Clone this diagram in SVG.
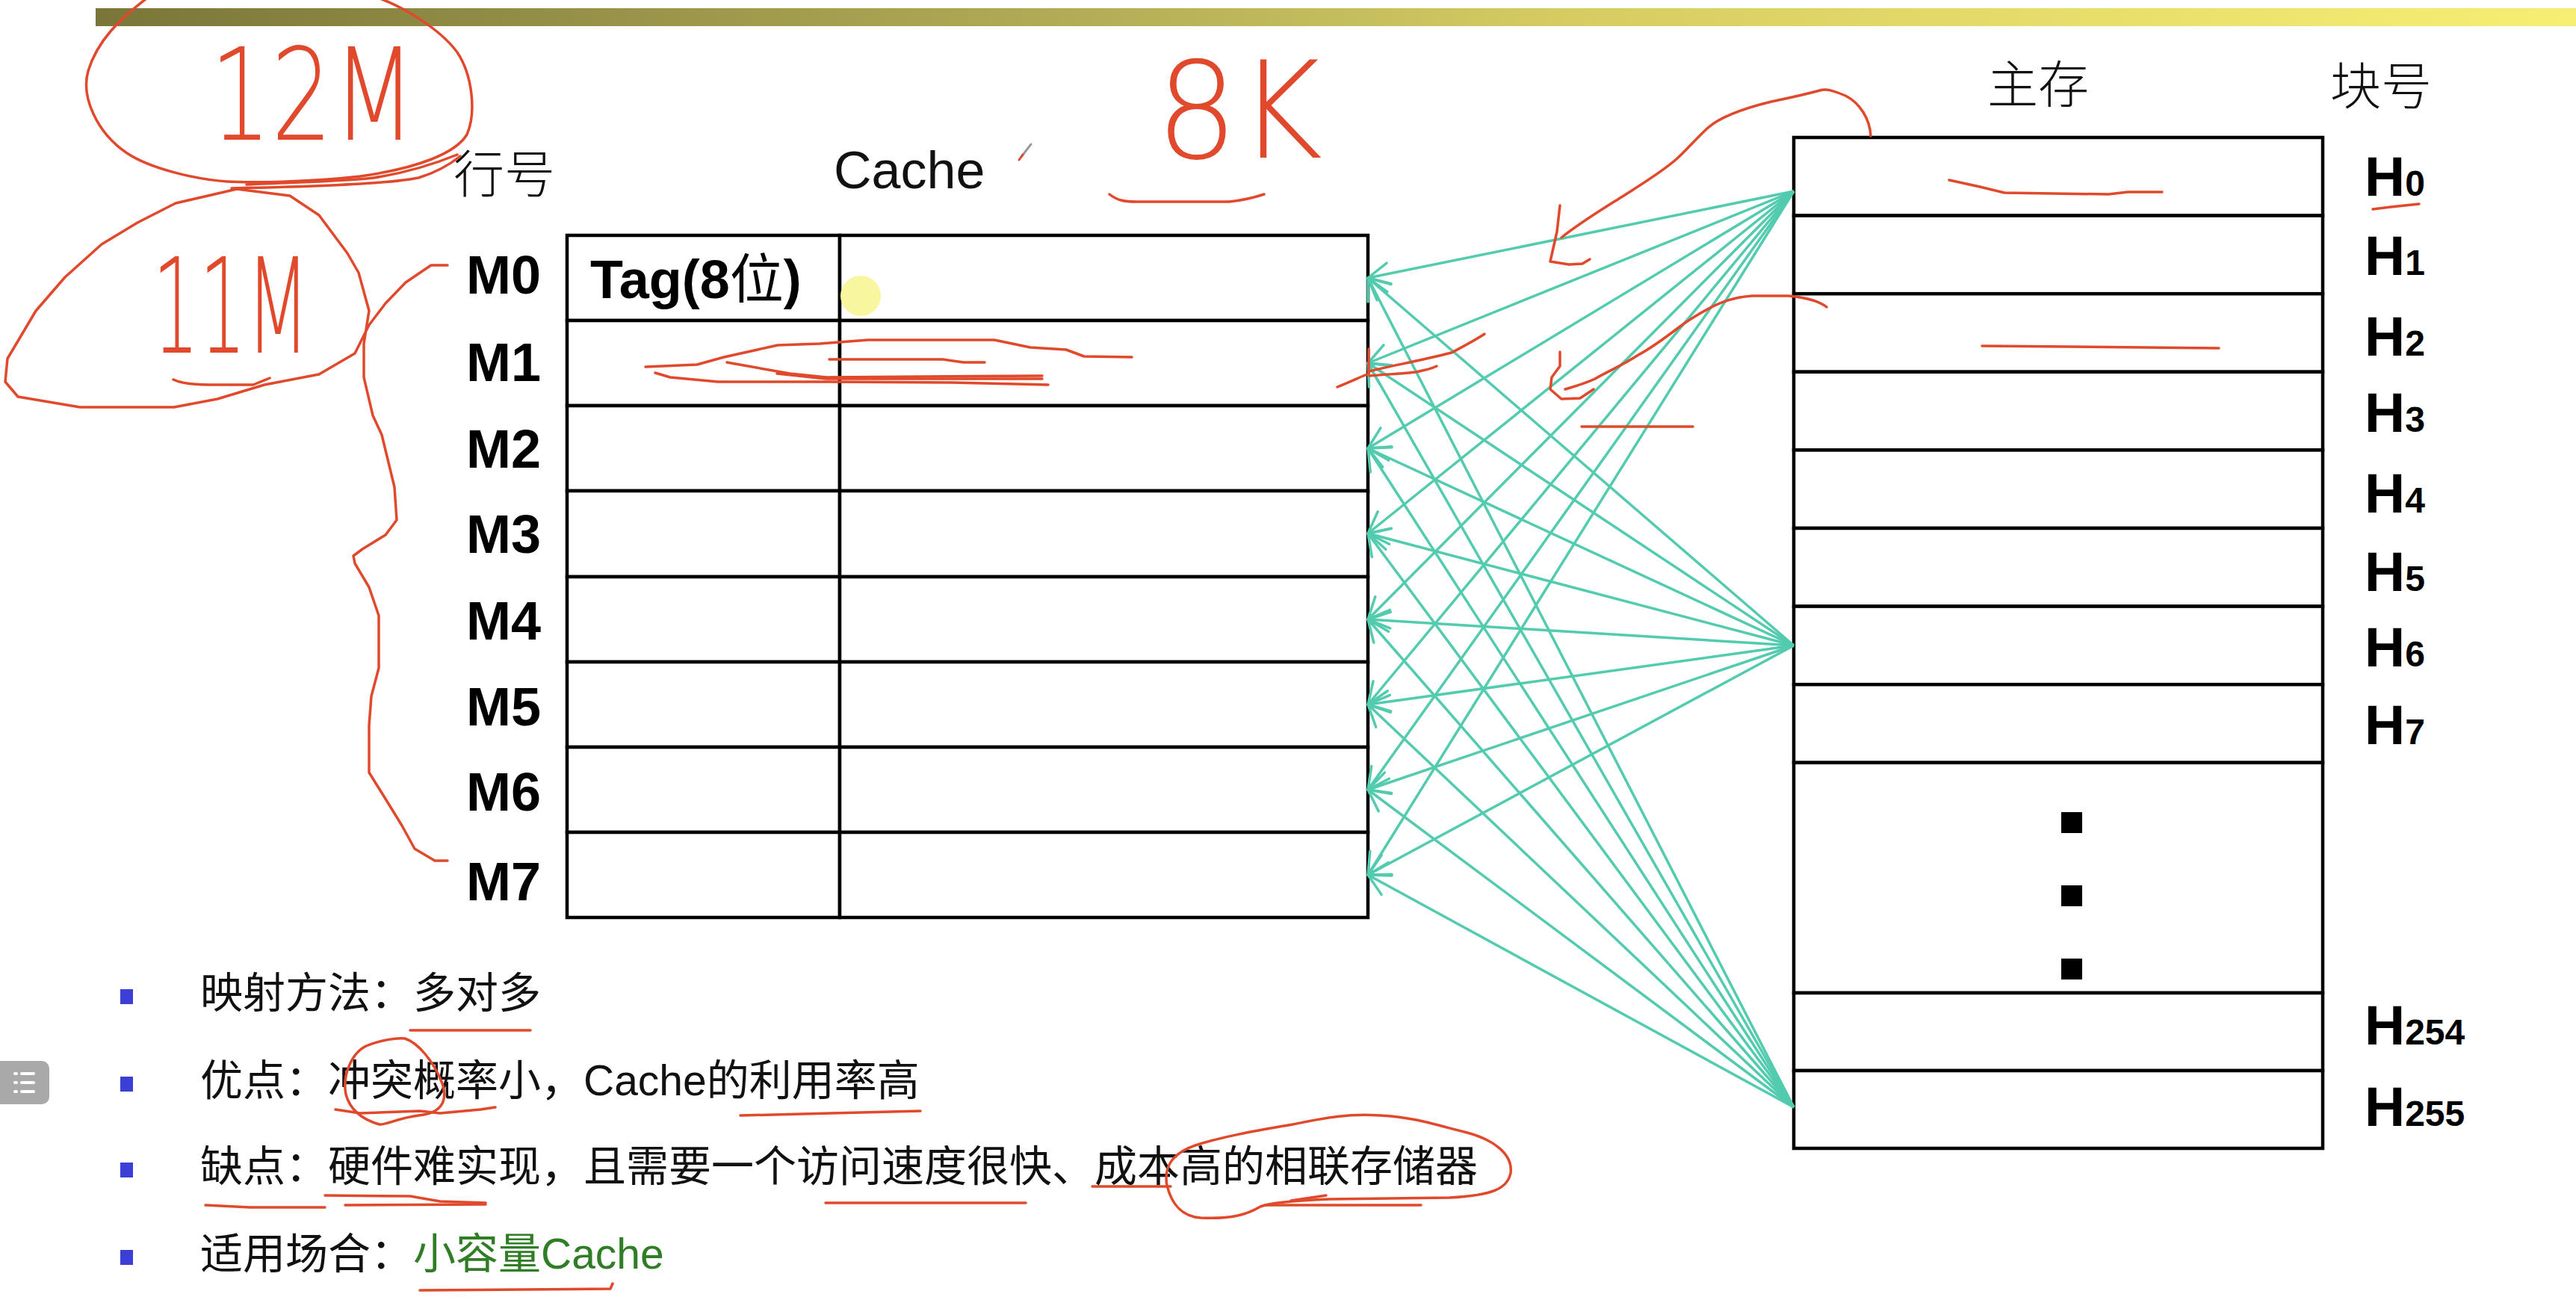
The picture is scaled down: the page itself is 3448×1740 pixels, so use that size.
<svg xmlns="http://www.w3.org/2000/svg" width="3448" height="1740" viewBox="0 0 3448 1740">
  <defs>
    <linearGradient id="barGrad" x1="0" y1="0" x2="1" y2="0">
      <stop offset="0" stop-color="#7a7638"/>
      <stop offset="0.4" stop-color="#b3ad57"/>
      <stop offset="0.6" stop-color="#d6cd62"/>
      <stop offset="1" stop-color="#f7ef73"/>
    </linearGradient>
    <marker id="arrow" markerUnits="userSpaceOnUse" markerWidth="44" markerHeight="44" viewBox="-36 -22 44 44" refX="0" refY="0" orient="auto">
      <path d="M-28.5,-14.5 L0,0 L-28.5,14.5" fill="none" stroke="#52cbae" stroke-width="3.5" stroke-linecap="round" stroke-linejoin="round"/>
    </marker>
    <style>
      .cell { fill: #ffffff; stroke: #000000; stroke-width: 4.5; }
      .lbl { font-family: "Liberation Sans", Arial, "Noto Sans CJK SC", sans-serif; font-weight: bold; fill: #000; }
      .mlbl { font-size: 72px; }
      .hl { font-size: 75px; }
      .sub { font-size: 48px; }
      .head { font-family: "Noto Sans CJK SC", sans-serif; font-size: 68px; font-weight: 300; fill: #111; }
      .note { font-family: "Liberation Sans", Arial, "Noto Sans CJK SC", sans-serif; font-size: 57px; fill: #111; }
      .green { fill: #2f7d24; }
      .bullet { fill: #3b3fd6; }
      .link { stroke: #52cbae; stroke-width: 3.5; fill: none; marker-end: url(#arrow); }
      .ink { fill: none; stroke: #e0492b; stroke-width: 3.5; stroke-linecap: round; stroke-linejoin: round; }
      .hand { font-family: "DejaVu Sans", "Liberation Sans", sans-serif; font-weight: 200; fill: #e0492b; }
    </style>
  </defs>

  <rect x="0" y="0" width="3448" height="1740" fill="#ffffff"/>

  <!-- title bar -->
  <rect x="128" y="11" width="3320" height="24" fill="url(#barGrad)"/>

  <!-- column headings -->
  <text class="head" x="607" y="258">行号</text>
  <text x="1116" y="252" font-family="Liberation Sans, Arial, sans-serif" font-size="70" fill="#111">Cache</text>
  <text class="head" x="2660" y="138">主存</text>
  <text class="head" x="3119" y="140">块号</text>

  <!-- pen cursor -->
  <g id="pen">
    <line x1="1367" y1="210" x2="1380" y2="193" stroke="#9a9a9a" stroke-width="3" stroke-linecap="round"/>
    <line x1="1364" y1="214" x2="1369" y2="207" stroke="#e0492b" stroke-width="3" stroke-linecap="round"/>
  </g>

  <!-- cache lines -->
  <g id="cache">
    <g id="M0">
      <rect class="cell" x="759" y="315" width="365" height="114"/>
      <rect class="cell" x="1124" y="315" width="707" height="114"/>
      <text class="lbl mlbl" x="624" y="393">M0</text>
      <text class="lbl mlbl" x="790" y="399">Tag(8<tspan font-family="Noto Sans CJK SC, sans-serif" font-weight="normal">位</tspan>)</text>
    </g>
    <g id="M1">
      <rect class="cell" x="759" y="429" width="365" height="114"/>
      <rect class="cell" x="1124" y="429" width="707" height="114"/>
      <text class="lbl mlbl" x="624" y="510">M1</text>
    </g>
    <g id="M2">
      <rect class="cell" x="759" y="543" width="365" height="114"/>
      <rect class="cell" x="1124" y="543" width="707" height="114"/>
      <text class="lbl mlbl" x="624" y="626">M2</text>
    </g>
    <g id="M3">
      <rect class="cell" x="759" y="657" width="365" height="115"/>
      <rect class="cell" x="1124" y="657" width="707" height="115"/>
      <text class="lbl mlbl" x="624" y="740">M3</text>
    </g>
    <g id="M4">
      <rect class="cell" x="759" y="772" width="365" height="114"/>
      <rect class="cell" x="1124" y="772" width="707" height="114"/>
      <text class="lbl mlbl" x="624" y="856">M4</text>
    </g>
    <g id="M5">
      <rect class="cell" x="759" y="886" width="365" height="114"/>
      <rect class="cell" x="1124" y="886" width="707" height="114"/>
      <text class="lbl mlbl" x="624" y="971">M5</text>
    </g>
    <g id="M6">
      <rect class="cell" x="759" y="1000" width="365" height="114"/>
      <rect class="cell" x="1124" y="1000" width="707" height="114"/>
      <text class="lbl mlbl" x="624" y="1085">M6</text>
    </g>
    <g id="M7">
      <rect class="cell" x="759" y="1114" width="365" height="114"/>
      <rect class="cell" x="1124" y="1114" width="707" height="114"/>
      <text class="lbl mlbl" x="624" y="1205">M7</text>
    </g>
  </g>

  <!-- cursor highlight -->
  <ellipse cx="1152" cy="396" rx="27" ry="27" fill="#f9f6a0"/>

  <!-- main memory blocks -->
  <g id="memory">
    <g id="H0">
      <rect class="cell" x="2401" y="184" width="708" height="104.6"/>
      <text class="lbl hl" x="3165" y="262">H<tspan class="sub">0</tspan></text>
    </g>
    <g id="H1">
      <rect class="cell" x="2401" y="288.6" width="708" height="104.6"/>
      <text class="lbl hl" x="3165" y="368">H<tspan class="sub">1</tspan></text>
    </g>
    <g id="H2">
      <rect class="cell" x="2401" y="393.2" width="708" height="104.6"/>
      <text class="lbl hl" x="3165" y="476">H<tspan class="sub">2</tspan></text>
    </g>
    <g id="H3">
      <rect class="cell" x="2401" y="497.8" width="708" height="104.6"/>
      <text class="lbl hl" x="3165" y="578">H<tspan class="sub">3</tspan></text>
    </g>
    <g id="H4">
      <rect class="cell" x="2401" y="602.4" width="708" height="104.6"/>
      <text class="lbl hl" x="3165" y="686">H<tspan class="sub">4</tspan></text>
    </g>
    <g id="H5">
      <rect class="cell" x="2401" y="707" width="708" height="104.6"/>
      <text class="lbl hl" x="3165" y="791">H<tspan class="sub">5</tspan></text>
    </g>
    <g id="H6">
      <rect class="cell" x="2401" y="811.6" width="708" height="104.6"/>
      <text class="lbl hl" x="3165" y="892">H<tspan class="sub">6</tspan></text>
    </g>
    <g id="H7">
      <rect class="cell" x="2401" y="916.2" width="708" height="104.6"/>
      <text class="lbl hl" x="3165" y="996">H<tspan class="sub">7</tspan></text>
    </g>
    <g id="H-gap">
      <rect class="cell" x="2401" y="1020.8" width="708" height="308.2"/>
      <rect x="2759" y="1087" width="28" height="28" fill="#000"/>
      <rect x="2759" y="1185" width="28" height="28" fill="#000"/>
      <rect x="2759" y="1283" width="28" height="28" fill="#000"/>
    </g>
    <g id="H254">
      <rect class="cell" x="2401" y="1329" width="708" height="104"/>
      <text class="lbl hl" x="3165" y="1398">H<tspan class="sub">254</tspan></text>
    </g>
    <g id="H255">
      <rect class="cell" x="2401" y="1433" width="708" height="104"/>
      <text class="lbl hl" x="3165" y="1507">H<tspan class="sub">255</tspan></text>
    </g>
  </g>

  <!-- mapping connectors: every block may go to every cache line -->
  <g id="connectors">
    <line class="link" x1="2401" y1="256" x2="1831" y2="372"/>
    <line class="link" x1="2401" y1="256" x2="1831" y2="486"/>
    <line class="link" x1="2401" y1="256" x2="1831" y2="600"/>
    <line class="link" x1="2401" y1="256" x2="1831" y2="714"/>
    <line class="link" x1="2401" y1="256" x2="1831" y2="829"/>
    <line class="link" x1="2401" y1="256" x2="1831" y2="943"/>
    <line class="link" x1="2401" y1="256" x2="1831" y2="1057"/>
    <line class="link" x1="2401" y1="256" x2="1831" y2="1171"/>
    <line class="link" x1="2401" y1="864" x2="1831" y2="372"/>
    <line class="link" x1="2401" y1="864" x2="1831" y2="486"/>
    <line class="link" x1="2401" y1="864" x2="1831" y2="600"/>
    <line class="link" x1="2401" y1="864" x2="1831" y2="714"/>
    <line class="link" x1="2401" y1="864" x2="1831" y2="829"/>
    <line class="link" x1="2401" y1="864" x2="1831" y2="943"/>
    <line class="link" x1="2401" y1="864" x2="1831" y2="1057"/>
    <line class="link" x1="2401" y1="864" x2="1831" y2="1171"/>
    <line class="link" x1="2401" y1="1482" x2="1831" y2="372"/>
    <line class="link" x1="2401" y1="1482" x2="1831" y2="486"/>
    <line class="link" x1="2401" y1="1482" x2="1831" y2="600"/>
    <line class="link" x1="2401" y1="1482" x2="1831" y2="714"/>
    <line class="link" x1="2401" y1="1482" x2="1831" y2="829"/>
    <line class="link" x1="2401" y1="1482" x2="1831" y2="943"/>
    <line class="link" x1="2401" y1="1482" x2="1831" y2="1057"/>
    <line class="link" x1="2401" y1="1482" x2="1831" y2="1171"/>
  </g>

  <!-- notes -->
  <g id="notes">
    <rect class="bullet" x="161" y="1324" width="17" height="20"/>
    <text class="note" x="268" y="1349">映射方法：多对多</text>
    <rect class="bullet" x="161" y="1441" width="17" height="20"/>
    <text class="note" x="268" y="1466">优点：冲突概率小，Cache的利用率高</text>
    <rect class="bullet" x="161" y="1556" width="17" height="20"/>
    <text class="note" x="268" y="1581">缺点：硬件难实现，且需要一个访问速度很快、成本高的相联存储器</text>
    <rect class="bullet" x="161" y="1673" width="17" height="20"/>
    <text class="note" x="268" y="1698">适用场合：<tspan class="green">小容量Cache</tspan></text>
  </g>

  <!-- side toolbar tab -->
  <g id="tab">
    <rect x="-12" y="1420" width="78" height="58" rx="10" fill="#a9a9a9"/>
    <g stroke="#ffffff" stroke-width="4" stroke-linecap="round">
      <line x1="20" y1="1437" x2="22" y2="1437"/>
      <line x1="29" y1="1437" x2="45" y2="1437"/>
      <line x1="20" y1="1449" x2="22" y2="1449"/>
      <line x1="29" y1="1449" x2="45" y2="1449"/>
      <line x1="20" y1="1461" x2="22" y2="1461"/>
      <line x1="29" y1="1461" x2="45" y2="1461"/>
    </g>
  </g>

  <!-- pen annotations -->
  <g id="ink">
    <text class="hand" transform="translate(281,187) scale(0.75,1)" font-size="172">12M</text>
    <text class="hand" transform="translate(204,472) scale(0.56,1)" font-size="176">11M</text>
    <text class="hand" transform="translate(1547,211) scale(0.96,1)" font-size="180">8K</text>

    <path class="ink" d="M500,-5 C540,8 590,40 612,70 C632,100 638,150 625,180 C610,205 560,225 482,236 C420,243 340,245 304,243 C260,240 200,225 170,205 C130,178 108,130 118,95 C130,55 160,25 200,-5"/>
    <path class="ink" d="M612,207 C580,220 540,232 500,238 C470,242 420,243 330,247"/>
    <path class="ink" d="M616,209 C600,222 580,232 560,238 C520,246 420,250 310,252"/>
    <path class="ink" d="M599,355 L577,355 L543,378 L516,406 L494,435 L475,473 L427,501 L354,515 L291,534 L233,545 L107,545 L24,531 L7,511 L10,480 L48,416 L87,371 L136,327 L184,298 L235,272 L317,253 L388,262 L427,288 L465,339 L480,365 L494,416 L487,460 L487,505 L499,556 L511,582 L528,652 L531,696 L516,716 L485,735 L473,744 L475,754 L494,786 L507,824 L507,894 L497,932 L494,971 L494,1034 L514,1066 L538,1105 L555,1136 L582,1152 L599,1152"/>
    <path class="ink" d="M232,508 C245,514 262,515 290,515 L339,515 L361,506"/>
    <path class="ink" d="M1485,260 C1495,268 1505,270 1520,270 L1645,270 C1665,268 1680,264 1692,260"/>

    <path class="ink" d="M864,491 L933,488 L969,478 L1041,462 L1097,460 L1162,455 L1331,455 L1379,465 L1427,468 L1451,477 L1515,478"/>
    <path class="ink" d="M1110,481 L1262,481 L1290,485 L1318,485"/>
    <path class="ink" d="M877,499 L897,505 L961,511 L1106,511 L1274,512 L1403,515"/>
    <path class="ink" d="M973,485 L1057,500 L1106,505 L1395,503"/>
    <path class="ink" d="M1040,500 L1106,507 L1395,507"/>

    <path class="ink" d="M1790,518 C1805,512 1820,505 1832,500 L1832,467"/>
    <path class="ink" d="M1833,497 C1860,490 1900,483 1943,472 C1960,463 1975,455 1987,447"/>
    <path class="ink" d="M1833,503 C1855,501 1880,500 1895,498 C1905,496 1915,494 1923,490"/>

    <path class="ink" d="M2504,182 C2503,160 2490,138 2470,128 C2455,122 2445,118 2436,121 C2410,128 2390,132 2371,136 C2330,146 2300,158 2285,172 C2270,186 2258,200 2245,212 C2225,230 2195,248 2170,264 C2140,283 2115,298 2090,318"/>
    <path class="ink" d="M2088,275 L2084,310 L2075,350 L2100,354 L2118,353 L2128,347"/>
    <path class="ink" d="M2445,411 C2435,403 2415,398 2394,396 L2345,396 C2320,398 2305,404 2291,411 C2270,422 2258,430 2246,439 C2225,455 2210,466 2193,475 C2170,490 2150,498 2135,507 C2120,514 2105,518 2095,521"/>
    <path class="ink" d="M2088,471 L2088,490 L2077,505 L2075,521 L2090,534 L2115,533 L2133,521"/>
    <path class="ink" d="M2117,571 L2266,571"/>

    <path class="ink" d="M2609,241 L2650,250 L2683,258 L2822,260 L2848,257 L2894,257"/>
    <path class="ink" d="M2653,463 L2970,466"/>
    <path class="ink" d="M3176,280 L3200,277 L3238,273"/>

    <path class="ink" d="M549,1379 L710,1379"/>
    <path class="ink" d="M542,1390 C560,1396 580,1420 592,1450 C600,1475 590,1490 560,1493 C535,1496 515,1506 508,1505 C490,1500 470,1490 463,1465 C458,1440 470,1410 490,1400 C510,1392 530,1389 542,1390"/>
    <path class="ink" d="M449,1485 L482,1490 L562,1487 L589,1490 L643,1485 L663,1482"/>
    <path class="ink" d="M991,1493 L1112,1490 L1232,1487"/>
    <path class="ink" d="M275,1613 L335,1616 L435,1616"/>
    <path class="ink" d="M435,1600 L549,1601 L589,1608 L650,1610"/>
    <path class="ink" d="M462,1613 L650,1612"/>
    <path class="ink" d="M1105,1610 L1373,1610"/>
    <path class="ink" d="M1462,1588 L1567,1588"/>
    <path class="ink" d="M1600,1533 C1640,1520 1690,1512 1730,1505 C1770,1497 1800,1490 1848,1493 C1890,1495 1920,1505 1960,1515 C2000,1525 2025,1545 2022,1570 C2018,1590 2000,1600 1940,1603 L1781,1605 C1730,1607 1700,1610 1687,1615 C1670,1625 1650,1632 1607,1630 C1580,1628 1568,1610 1562,1587 C1558,1565 1565,1545 1600,1533"/>
    <path class="ink" d="M1694,1613 L1902,1613"/>
    <path class="ink" d="M1728,1607 L1775,1600"/>
    <path class="ink" d="M562,1727 L817,1725 L820,1718"/>
  </g>
</svg>
